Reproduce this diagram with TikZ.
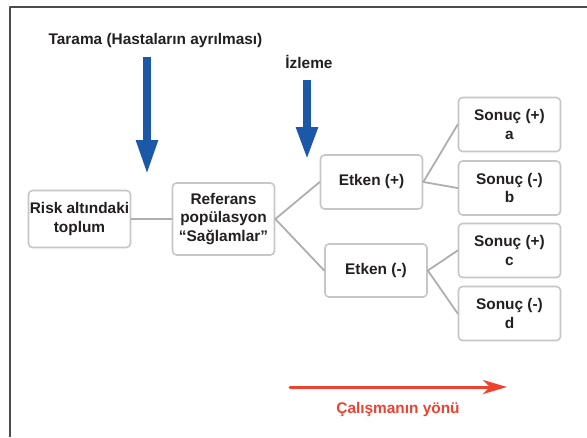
\documentclass[tikz,border=0pt]{standalone}
\usepackage{fontspec}
\setmainfont{Liberation Sans}
\usetikzlibrary{arrows.meta}
\definecolor{boxgray}{HTML}{C6C6C6}
\definecolor{linegray}{HTML}{AEAEAE}
\definecolor{darkblue}{HTML}{1C58A8}
\definecolor{midred}{HTML}{EE4130}
\definecolor{textdark}{HTML}{231F20}
\tikzset{
    lab/.style={
        font=\fontsize{15.4}{18.5}\selectfont\bfseries, text=textdark
    },
    box/.style={
        lab, draw=boxgray, line width=1.6pt, rounded corners=4pt,
        fill=white, align=center, inner sep=0pt, minimum width=102pt
    },
    link/.style={draw=linegray, line width=1.8pt}
}

\begin{document}
\begin{tikzpicture}[x=1pt,y=-1pt, line cap=round, line join=round]

\useasboundingbox (0,0) rectangle (587,437);
\draw[line width=2pt, color=black!70, line cap=butt] (10,437) -- (10,7) -- (587,7);

% labels on top
\node[lab] (tarama) at (155.5,41) {Tarama (Hastaların ayrılması)};
\node[lab] (izleme) at (309,62) {İzleme};

% boxes
\node[box, minimum height=57pt] (risk) at (79.5,219) {Risk altındaki\\toplum};
\node[box, minimum height=72pt] (ref) at (223.5,219) {Referans\\popülasyon\\“Sağlamlar”};
\node[box, minimum height=54pt] (etp) at (371.5,182) {Etken (+)};
\node[box, minimum height=53pt] (etm) at (376,270.5) {Etken (-)};

\foreach \nm/\y/\s/\l in {sa/124.5/+/a, sb/188/-/b, sc/250.5/+/c, sd/313.5/-/d} {
  \node[box, minimum height=54pt] (\nm) at (509.5,\y) {Sonuç (\s)\\\l};
}

% connectors
\draw[link] (risk.east) -- (ref.west);
\draw[link] (ref.east) -- (etp.west);
\draw[link] (ref.east) -- (etm.west);
\draw[link] (etp.east) -- (sa.west);
\draw[link] (etp.east) -- (sb.west);
\draw[link] (etm.east) -- (sc.west);
\draw[link] (etm.east) -- (sd.west);

% blue arrows
\coordinate (t1) at (147,57);
\coordinate (t2) at (147,175);
\coordinate (i1) at (307,80);
\coordinate (i2) at (307,160);
\draw[-{Triangle[width=20pt,length=35pt]}, line width=8pt, darkblue, line cap=butt] (t1) -- (t2);
\draw[-{Triangle[width=20pt,length=33pt]}, line width=8pt, darkblue, line cap=butt] (i1) -- (i2);

% direction of the study
\coordinate (d1) at (290,387);
\coordinate (d2) at (507,387);
\draw[-{Stealth[length=24pt,width=14pt,inset=7pt]}, line width=3pt, midred] (d1) -- (d2);
\node[lab, text=midred] (yon) at (398,410) {Çalışmanın yönü};

\end{tikzpicture}
\end{document}
